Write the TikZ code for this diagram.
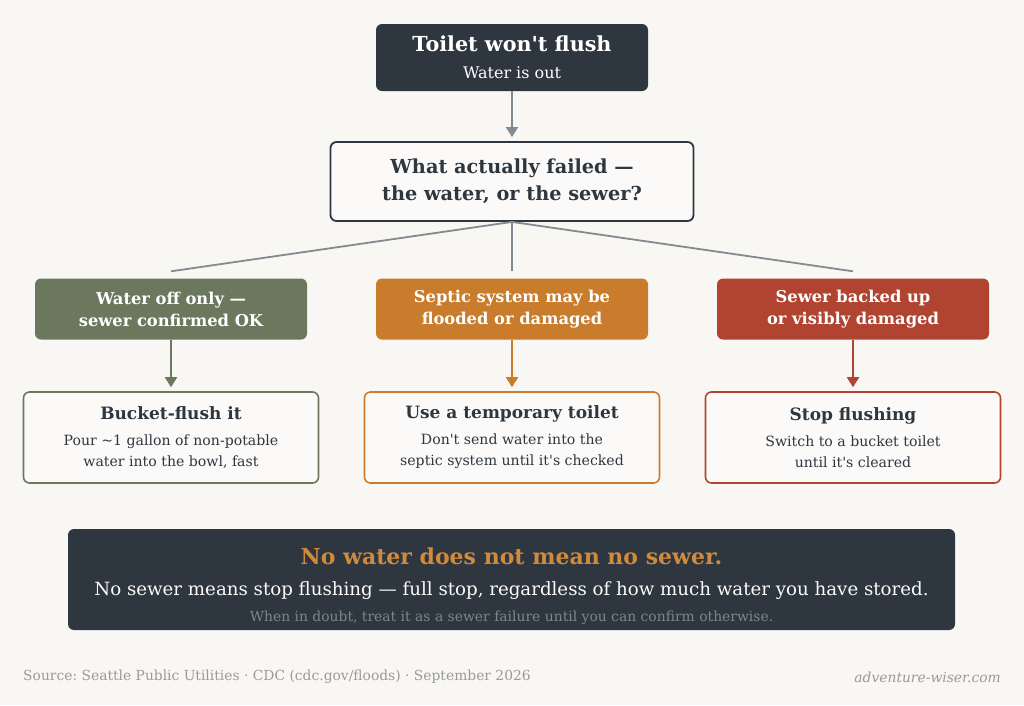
\documentclass[tikz,border=0pt]{standalone}
\usepackage{fontspec}
\setmainfont{DejaVu Serif}
\usetikzlibrary{positioning,arrows.meta}
\frenchspacing

\definecolor{paper}{HTML}{F9F7F4}
\definecolor{card}{HTML}{FBFAF8}
\definecolor{ink}{HTML}{2E3640}
\definecolor{wire}{HTML}{838B92}
\definecolor{moss}{HTML}{6B785E}
\definecolor{rust}{HTML}{C97C2C}
\definecolor{brick}{HTML}{B04430}
\definecolor{amber}{HTML}{D08A3C}
\definecolor{mute}{HTML}{7D858C}
\definecolor{note}{HTML}{9A9A98}

\begin{document}
\begin{tikzpicture}[x=1pt, y=-1pt,
  font=\fontsize{14}{17}\selectfont, text=ink,
  box/.style={rectangle, rounded corners=6pt, align=center, inner sep=0pt},
  start/.style={box, fill=ink, text=white, minimum width=272pt, minimum height=67pt,
                font=\fontsize{16}{27}\selectfont},
  ask/.style={box, draw=ink, line width=1.8pt, fill=card, minimum width=363pt, minimum height=79pt,
              font=\bfseries\fontsize{19.3}{27}\selectfont},
  cause/.style={box, minimum width=272pt, minimum height=61pt, text=white,
                font=\bfseries\fontsize{16.3}{22}\selectfont},
  act/.style={box, draw, line width=1.6pt, fill=card, minimum width=295pt, minimum height=91pt,
              font=\fontsize{14.1}{21}\selectfont},
  banner/.style={box, fill=ink, minimum width=887pt, minimum height=101pt,
                 font=\fontsize{18.2}{26}\selectfont},
  link/.style={draw=wire, line width=1.8pt},
  flow/.style={-{Triangle[length=10pt,width=12pt]}, line width=1.8pt, shorten >=4pt}
]
\fill[paper] (0,0) rectangle (1024,705);

% question
\node[start] (top) at (512,57.5)
  {{\bfseries\fontsize{20.7}{27}\selectfont Toilet won\textquotesingle t flush}\\{Water is out}};
\node[ask] (what) at (512,181.5) {What actually failed —\\the water, or the sewer?};

% three causes
\node[cause, fill=moss]  (ok)     at (171,309) {Water off only —\\sewer confirmed OK};
\node[cause, fill=rust]  (septic) at (512,309) {Septic system may be\\flooded or damaged};
\node[cause, fill=brick] (sewer)  at (853,309) {Sewer backed up\\or visibly damaged};

% what to do
\node[act, draw=moss]  (bucket) at (171,437.5)
  {{\bfseries\fontsize{17}{21}\selectfont Bucket-flush it}\\[5pt]Pour \textasciitilde1 gallon of non-potable\\water into the bowl, fast};
\node[act, draw=rust]  (temp)   at (512,437.5)
  {{\bfseries\fontsize{17}{21}\selectfont Use a temporary toilet}\\[5pt]Don\textquotesingle t send water into the\\septic system until it\textquotesingle s checked};
\node[act, draw=brick] (stop)   at (853,437.5)
  {{\bfseries\fontsize{17}{21}\selectfont Stop flushing}\\[5pt]Switch to a bucket toilet\\until it\textquotesingle s cleared};

\draw[flow, draw=wire, fill=wire] (top) -- (what);
\draw[link] (what.south) -- ([yshift=7pt]ok.north);
\draw[link] (what.south) -- ([yshift=7pt]septic.north);
\draw[link] (what.south) -- ([yshift=7pt]sewer.north);
\draw[flow, draw=moss, fill=moss]   (ok) -- (bucket);
\draw[flow, draw=rust, fill=rust]   (septic) -- (temp);
\draw[flow, draw=brick, fill=brick] (sewer) -- (stop);

% bottom line
\node[banner] (rule) at (511.5,579.5)
  {\rule{0pt}{30pt}{\color{amber}\bfseries\fontsize{22}{26}\selectfont No water does not mean no sewer.}\\[5pt]
   {\color{card}No sewer means stop flushing — full stop, regardless of how much water you have stored.}\\
   {\color{mute}\fontsize{13.9}{26}\selectfont When in doubt, treat it as a sewer failure until you can confirm otherwise.}};

\node[anchor=west, inner sep=0pt, text=note, font=\fontsize{13.85}{17}\selectfont] (src) at (23,677)
  {Source: Seattle Public Utilities · CDC (cdc.gov/floods) · September 2026};
\node[anchor=east, inner sep=0pt, text=note, font=\itshape\fontsize{13.85}{17}\selectfont] (site) at (1001,677)
  {adventure-wiser.com};
\end{tikzpicture}
\end{document}
